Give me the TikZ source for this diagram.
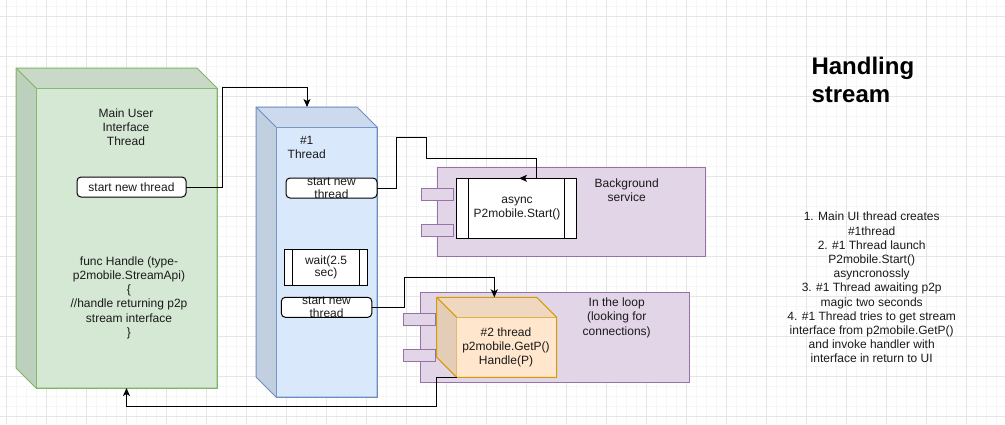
\documentclass[tikz,border=0pt]{standalone}
\usepackage{fontspec}
\setmainfont{Liberation Sans}
\usetikzlibrary{calc,arrows.meta}
\definecolor{gfill}{HTML}{D5E8D4}\definecolor{gline}{HTML}{82B366}
\definecolor{bfill}{HTML}{DAE8FC}\definecolor{bline}{HTML}{6C8EBF}
\definecolor{pfill}{HTML}{E1D5E7}\definecolor{pline}{HTML}{9673A6}
\definecolor{ofill}{HTML}{FFE6CC}\definecolor{oline}{HTML}{D79B00}
\definecolor{txt}{HTML}{1A1A1A}
\definecolor{gridmaj}{HTML}{E6E6E6}\definecolor{gridmin}{HTML}{F6F6F6}
\newcommand\cubeback[3]{%
  \fill[#2!94!black] ($(#1.north west)+(-20,-20)$) -- ($(#1.north east)+(-20,-20)$) -- (#1.north east) -- (#1.north west) -- cycle;
  \fill[#2!89!black] ($(#1.north west)+(-20,-20)$) -- (#1.north west) -- (#1.south west) -- ($(#1.south west)+(-20,-20)$) -- cycle;
  \draw[#3,line width=1pt,line join=round] ($(#1.north west)+(-20,-20)$) -- ($(#1.north east)+(-20,-20)$) -- (#1.north east) -- (#1.south east) -- (#1.south west) -- ($(#1.south west)+(-20,-20)$) -- cycle;
  \draw[#3,line width=1pt] ($(#1.north west)+(-20,-20)$) -- (#1.north west);
}
\newcommand\procbars[2]{%
  \draw[line width=1pt] ($(#1.north west)+(#2,0)$) -- ($(#1.south west)+(#2,0)$);
  \draw[line width=1pt] ($(#1.north east)+(-#2,0)$) -- ($(#1.south east)+(-#2,0)$);
}
\begin{document}
\begin{tikzpicture}[x=1pt,y=-1pt,
  every node/.style={inner sep=0pt,outer sep=0pt,text=txt,font=\fontsize{12}{14.2}\selectfont},
  face/.style n args={4}{draw=#2,fill=#1,line width=1pt,minimum width=#3,minimum height=#4,anchor=north west},
  rbox/.style n args={2}{draw=black,fill=white,rounded corners=4pt,line width=1pt,minimum width=#1,minimum height=#2,anchor=north west},
  pbox/.style n args={2}{draw=black,fill=white,line width=1pt,minimum width=#1,minimum height=#2,anchor=north west},
  tab/.style n args={2}{draw=pline,fill=pfill,line width=1pt,minimum width=#1,minimum height=#2,anchor=north west},
  lbl/.style={align=center},
  conn/.style={draw=black,line width=1pt,-{Stealth[length=8pt,width=7pt,inset=2pt]}}]
\useasboundingbox (0,0) rectangle (1005,424);
\fill[white] (0,0) rectangle (1005,424);
% grid
\foreach \x in {6.7,16.7,...,1005} \draw[gridmin,line width=0.5pt] (\x,0) -- (\x,424);
\foreach \y in {6.7,16.7,...,424} \draw[gridmin,line width=0.5pt] (0,\y) -- (1005,\y);
\foreach \x in {6.7,46.7,...,1005} \draw[gridmaj,line width=0.8pt] (\x,0) -- (\x,424);
\foreach \y in {16.7,56.7,...,424} \draw[gridmaj,line width=0.8pt] (0,\y) -- (1005,\y);

% main UI cube
\node[face={gfill}{gline}{181pt}{300pt}] (ui) at (36,88) {};
\cubeback{ui}{gfill}{gline}
\node[lbl] (uit) at (126,127) {Main User\\Interface\\Thread};
\node[rbox={109pt}{20pt}] (s0) at (77,177) {};
\node (s0t) at (s0) {start new thread};
\node[lbl] (uih) at (129,297.6) {func Handle (type-\\p2mobile.StreamApi)\\\{\\//handle returning p2p\\stream interface\\\}};

% thread 1 cube
\node[face={bfill}{bline}{101pt}{270pt}] (t1) at (276,127) {};
\cubeback{t1}{bfill}{bline}
\coordinate (t1top) at (307,107);
\node[lbl] (t1t) at (306.7,147.5) {\#1\\Thread};
\node[rbox={91pt}{20pt}] (s1) at (286,178) {};
\node[lbl,font=\fontsize{12}{13.3}\selectfont] (s1t) at (s1) {start new\\thread};
\node[pbox={83.5pt}{36pt}] (w) at (284.3,249.3) {};
\procbars{w}{8.4}
\node[lbl,font=\fontsize{12}{12.6}\selectfont] (wt) at (w) {wait(2.5\\sec)};
\node[rbox={90.5pt}{20pt}] (s2) at (281.3,297.3) {};
\node[lbl,font=\fontsize{12}{13.3}\selectfont] (s2t) at (s2) {start new\\thread};

% background service
\node[face={pfill}{pline}{268pt}{89.5pt}] (bg) at (437.7,167.3) {};
\node[tab={31.5pt}{12.5pt}] (bgt1) at (421.7,188.3) {};
\node[tab={31.5pt}{12.5pt}] (bgt2) at (421.7,224.3) {};
\node[lbl] (bgl) at (626.7,190.5) {Background\\service};
\node[pbox={119.3pt}{60pt}] (as) at (456.7,178.3) {};
\procbars{as}{11.7}
\node[lbl] (ast) at (517,208.7) {async\\P2mobile.Start()};

% in the loop
\node[face={pfill}{pline}{269pt}{90pt}] (lp) at (420,292.3) {};
\node[tab={32.4pt}{12.5pt}] (lpt1) at (403.3,313.3) {};
\node[tab={32.4pt}{12.5pt}] (lpt2) at (403.3,349.3) {};
\node[lbl] (lpl) at (616.7,317.7) {In the loop\\(looking for\\connections)};
\node[face={ofill}{oline}{100pt}{60pt}] (t2) at (456.7,317.3) {};
\cubeback{t2}{ofill}{oline}
\coordinate (t2top) at (494.3,297.3);
\node[lbl] (t2t) at (506,347.5) {\#2 thread\\p2mobile.GetP()\\Handle(P)};

% connectors
\draw[conn] (s0.east) -| (222,87.7) -| (t1top);
\coordinate (asin) at (519,178.3);
\draw[conn] (s1.east) -| (396,137.3) -| (426,158.3) -| (536,178.3) -- (asin);
\draw[conn] (s2.east) -| (404.3,277.3) -| (t2top);
\draw[conn] (t2.south west) -- (436.7,377.3) -- (436.7,406.7) -| (ui.south);

% right-hand text
\node[anchor=north west,align=left,font=\bfseries\fontsize{24}{28}\selectfont,text=black] (title) at (811.5,57.5) {Handling\\stream};
\node[lbl] (notes) at (871.7,287.7) {1. Main UI thread creates\\\#1thread\\2. \#1 Thread launch\\P2mobile.Start()\\asyncronossly\\3. \#1 Thread awaiting p2p\\magic two seconds\\4. \#1 Thread tries to get stream\\interface from p2mobile.GetP()\\and invoke handler with\\interface in return to UI};
\end{tikzpicture}
\end{document}
